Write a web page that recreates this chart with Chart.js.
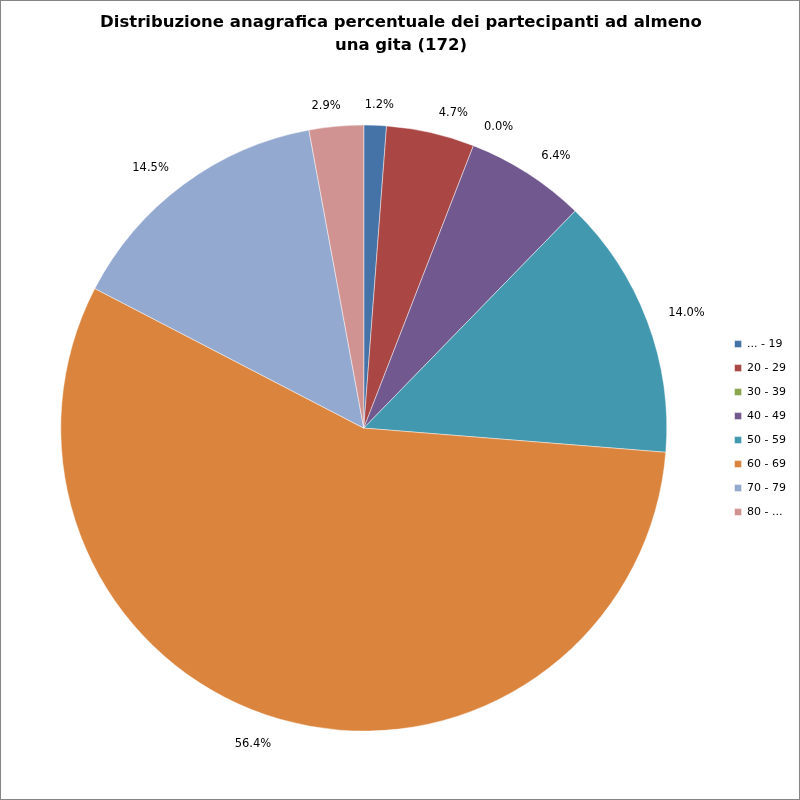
<!DOCTYPE html>
<html>
<head>
<meta charset="utf-8">
<script src="https://cdn.jsdelivr.net/npm/chart.js@4"></script>
<style>
  html, body { margin: 0; padding: 0; background: #fff; }
  #wrap { width: 798px; height: 798px; border: 1px solid #868686; position: relative; }
</style>
</head>
<body>
<div id="wrap"><canvas id="chart" width="798" height="798"></canvas></div>
<script>
var labels = ['... - 19', '20 - 29', '30 - 39', '40 - 49', '50 - 59', '60 - 69', '70 - 79', '80 - ...'];
var percentages = [1.2, 4.7, 0.0, 6.4, 14.0, 56.4, 14.5, 2.9];
var colors = ['#4572A7', '#AA4643', '#89A54E', '#71588F', '#4198AF', '#DB843D', '#93A9CF', '#D19392'];

// percent labels outside each slice, box corner touching a point just past the rim
var outsideLabels = {
    id: 'outsideLabels',
    afterDatasetsDraw: function(chart) {
        var ctx = chart.ctx;
        var meta = chart.getDatasetMeta(0);
        var clamp = function(v) { return Math.max(-1, Math.min(1, v)); };
        ctx.save();
        ctx.font = '11.5px "DejaVu Sans"';
        ctx.fillStyle = '#000';
        ctx.textAlign = 'center';
        ctx.textBaseline = 'middle';
        meta.data.forEach(function(arc, i) {
            var mid = (arc.startAngle + arc.endAngle) / 2;
            var text = percentages[i].toFixed(1) + '%';
            var w = ctx.measureText(text).width;
            var dx = Math.cos(mid), dy = Math.sin(mid);
            var r = arc.outerRadius + 18;
            var x = arc.x + dx * r + clamp(dx * 5) * (w / 2 + 4);
            var y = arc.y + dy * r + clamp(dy * 5) * 4.5 + 2.5;
            ctx.fillText(text, x, y);
        });
        ctx.restore();
    }
};

new Chart(document.getElementById('chart'), {
    type: 'pie',
    data: {
        labels: labels,
        datasets: [{
            data: percentages,
            backgroundColor: colors,
            borderColor: 'rgba(255,255,255,0.45)',
            borderWidth: 1,
            radius: 303
        }]
    },
    options: {
        responsive: false,
        animation: false,
        layout: { padding: { left: 5, right: 3, top: 0, bottom: 10 } },
        plugins: {
            title: {
                display: true,
                text: ['Distribuzione anagrafica percentuale dei partecipanti ad almeno', 'una gita (172)'],
                font: { family: '"DejaVu Sans"', size: 16.5, weight: 'bold', lineHeight: 1.4 },
                color: '#000',
                padding: { top: 10, bottom: 10 }
            },
            legend: {
                position: 'right',
                title: { display: true, text: ' ', padding: { top: 28, bottom: 25 }, font: { size: 11 } },
                labels: {
                    boxWidth: 7,
                    boxHeight: 7,
                    padding: 13,
                    color: '#000',
                    font: { family: '"DejaVu Sans"', size: 11 }
                }
            },
            tooltip: { enabled: false }
        }
    },
    plugins: [outsideLabels]
});
</script>
</body>
</html>
